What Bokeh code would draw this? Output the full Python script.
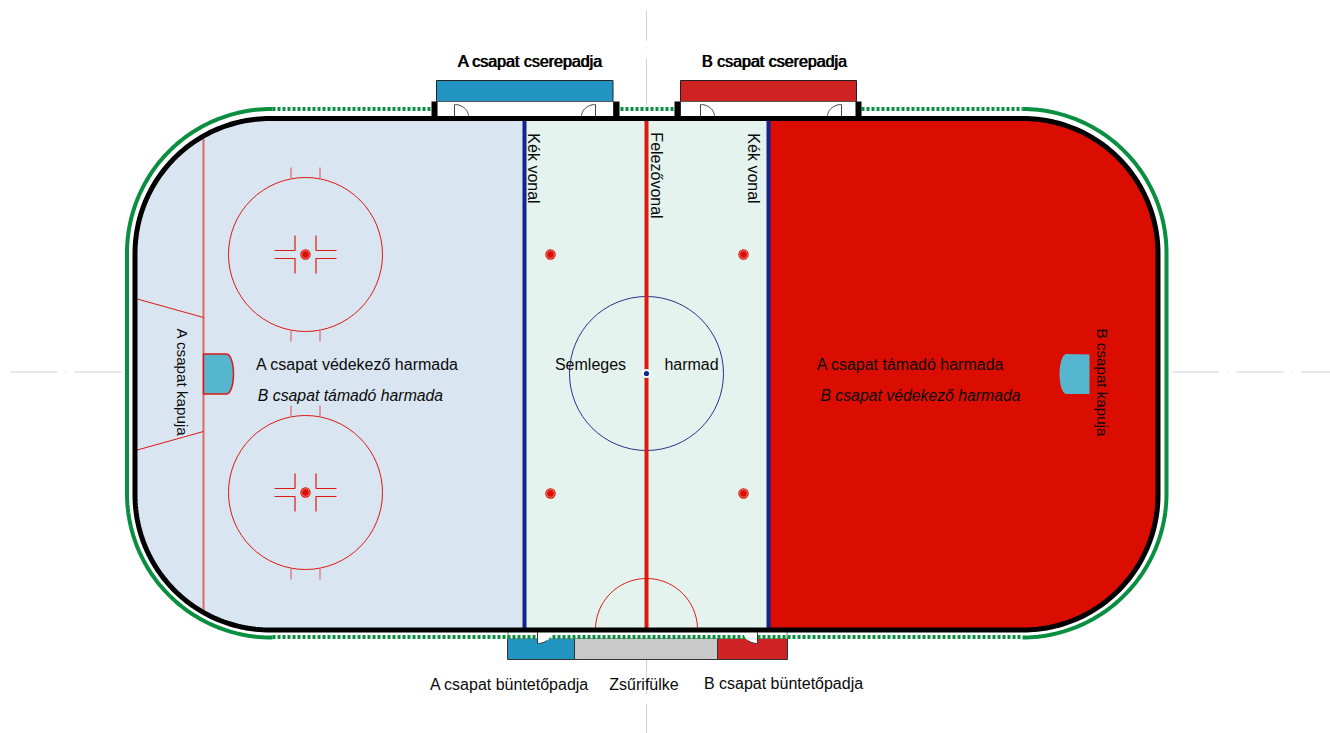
import numpy as np
from bokeh.plotting import figure
from bokeh.core.properties import value
from bokeh.embed import file_html
from bokeh.resources import INLINE

# plan of the rink (x right, y down)
boards = (134.5, 118, 1157.5, 629.5, 135)
green_outline = (126.5, 108.5, 1166, 637, 144)
blue_lines = [524, 768]
centre_x = 646
centre_y = 373
goal_line_x = 203
faceoff_centres_x = [305, 305]
faceoff_centres_y = [254, 492]
faceoff_radius = 77
centre_radius = 77
neutral_dots_x = [550, 743, 550, 743]
neutral_dots_y = [254, 254, 493, 493]
dotted_x = (272, 1022)

labels = ["A csapat védekező harmada", "A csapat támadó harmada", "Semleges", "harmad",
          "A csapat büntetőpadja", "Zsűrifülke", "B csapat büntetőpadja"]
labels_x = [357, 910, 590, 691, 509, 643.5, 783]
labels_y = [364, 364, 364, 364, 684, 684, 683]
italic_labels = ["B csapat támadó harmada", "B csapat védekező harmada"]
italic_x = [350, 920]
italic_y = [395, 395]
bold_labels = ["A csapat cserepadja", "B csapat cserepadja"]
bold_x = [530, 774]
bold_y = [61, 61]
goal_labels = ["A csapat kapuja", "B csapat kapuja"]
goal_labels_x = [182, 1102]
goal_labels_y = [382, 382]
line_labels = ["Kék vonal", "Felezővonal", "Kék vonal"]
line_labels_x = [533, 656, 753]
line_labels_y = [168, 175, 168]

GREY = "#D2D2D2"
ICE_A = "#D9E5F1"
ICE_N = "#E5F3EE"
ICE_B = "#DA0D00"
RED = "#DC1A10"
NAVY = "#13248F"
TEAM_A = "#2294C2"
TEAM_B = "#CF2222"
CREASE = "#56B5CF"
GREEN = "#0A8F40"
INK = "#0A0A0A"
FONT = value("Liberation Sans")


def rounded(x0, y0, x1, y1, r, n=60):
    t = np.linspace(0, np.pi / 2, n)
    xs = np.concatenate([x0 + r - r * np.cos(t), x1 - r + r * np.sin(t),
                         x1 - r + r * np.cos(t), x0 + r - r * np.sin(t)])
    ys = np.concatenate([y0 + r - r * np.sin(t), y0 + r - r * np.cos(t),
                         y1 - r + r * np.sin(t), y1 - r + r * np.cos(t)])
    return xs, ys


p = figure(width=1330, height=733, x_range=(0, 1330), y_range=(733, 0),
           output_backend="svg", toolbar_location=None, min_border=0,
           outline_line_color=None, background_fill_color="white")
p.xaxis.visible = False
p.yaxis.visible = False
p.grid.visible = False

# grey axes of symmetry
p.multi_line([[10, 57], [64.5, 65.5], [74, 121], [1172, 1218], [1226.5, 1227.5], [1236, 1283], [1291.5, 1292.5], [1301, 1330]],
             [[371.5] * 2] * 8, line_color=GREY, line_width=1)
p.multi_line([[646] * 2] * 5, [[10, 40], [47, 48], [58, 104], [659, 694], [703, 733]],
             line_color=GREY, line_width=1)

# ice zones
bx, by = rounded(*boards)
p.patch(np.clip(bx, None, blue_lines[0]), by, fill_color=ICE_A, line_color=None)
p.patch(np.clip(bx, blue_lines[0], blue_lines[1]), by, fill_color=ICE_N, line_color=None)
p.patch(np.clip(bx, blue_lines[1], None), by, fill_color=ICE_B, line_color=None)

# goal line and trapezoid
t_inset = boards[4] - np.sqrt(boards[4] ** 2 - (boards[4] - (goal_line_x - boards[0])) ** 2)
p.line([goal_line_x] * 2, [boards[1] + t_inset, boards[3] - t_inset], line_color="#E0696C", line_width=2)
p.multi_line([[135, goal_line_x], [135, goal_line_x]], [[298, 317], [450, 431]], line_color=RED, line_width=1)

# goal creases
a = np.linspace(-np.pi / 2, np.pi / 2, 30)
bulge_x = 226 + 7 * np.cos(a)
bulge_y = 373.5 + 20 * np.sin(a)
p.patch(np.r_[203, bulge_x, 203], np.r_[353.5, bulge_y, 393.5], fill_color=CREASE, line_color=RED, line_width=1.5)
p.patch(np.r_[1089, 1292 - 226 - 7 * np.cos(a), 1089], np.r_[354, 373.5 + 20 * np.sin(a), 393.5], fill_color=CREASE, line_color=None)

# face-off circles
p.circle(faceoff_centres_x, faceoff_centres_y, radius=faceoff_radius, fill_color=None, line_color=RED, line_width=1)
for cx, cy in zip(faceoff_centres_x, faceoff_centres_y):
    p.multi_line([[cx - 14.5] * 2, [cx + 14.5] * 2, [cx - 14.5] * 2, [cx + 14.5] * 2],
                 [[cy - 87, cy - 76], [cy - 87, cy - 76], [cy + 76, cy + 87], [cy + 76, cy + 87]],
                 line_color="#E0696C", line_width=1.2)
    p.multi_line([[cx - 31, cx - 10.5, cx - 10.5], [cx + 31, cx + 10.5, cx + 10.5],
                  [cx - 31, cx - 10.5, cx - 10.5], [cx + 31, cx + 10.5, cx + 10.5]],
                 [[cy - 4, cy - 4, cy - 19], [cy - 4, cy - 4, cy - 19],
                  [cy + 4, cy + 4, cy + 19], [cy + 4, cy + 4, cy + 19]],
                 line_color=RED, line_width=1.2)
dots_x = faceoff_centres_x + neutral_dots_x
dots_y = faceoff_centres_y + neutral_dots_y
p.circle(dots_x, dots_y, radius=5.2, fill_color=ICE_B, line_color=None)
p.circle(dots_x, dots_y, radius=3.9, fill_color=None, line_color="white", line_alpha=0.55, line_width=0.8)

# centre circle, lines
p.circle([centre_x], [centre_y], radius=centre_radius, fill_color=None, line_color="#24358F", line_width=1)
p.multi_line([[x, x] for x in blue_lines], [[118, 630]] * 2, line_color=NAVY, line_width=4)
p.line([centre_x] * 2, [118, 630], line_color=RED, line_width=4)
p.circle([centre_x], [centre_y], radius=4.5, fill_color="white", line_color=None)
p.circle([centre_x], [centre_y], radius=2.6, fill_color=NAVY, line_color=None)

# referee crease
s = np.linspace(0, np.pi, 60)
p.line(centre_x + 51 * np.cos(s), 629 - 51 * np.sin(s), line_color=RED, line_width=1)

# bench fronts
p.quad(left=[436, 680], right=[612.5, 856], top=[80, 80], bottom=[101, 101],
       fill_color=[TEAM_A, TEAM_B], line_color="#222222", line_width=1)
p.quad(left=[436, 680], right=[613, 856], top=[101, 101], bottom=[116, 116],
       fill_color="white", line_color="#555555", line_width=1)

# solid corners and dotted straight parts of the outer barrier
gx, gy = rounded(*green_outline)
quarter = len(gx) // 4
left_x = np.r_[dotted_x[0], gx[3 * quarter:], gx[:quarter], dotted_x[0]]
left_y = np.r_[green_outline[3], gy[3 * quarter:], gy[:quarter], green_outline[1]]
right_x = np.r_[dotted_x[1], gx[quarter:3 * quarter], dotted_x[1]]
right_y = np.r_[green_outline[1], gy[quarter:3 * quarter], green_outline[3]]
p.multi_line([left_x, right_x], [left_y, right_y], line_color=GREEN, line_width=4)
p.segment([dotted_x[0], 620, 861], [108.5] * 3, [431, 674, dotted_x[1]], [108.5] * 3, line_color=GREEN, line_width=4, line_dash="3 2")
# bench posts
p.quad(left=[431, 613, 674, 855], right=[437, 619, 680, 861], top=[101] * 4, bottom=[118] * 4, fill_color="black", line_color=None)

# penalty boxes
p.quad(left=[507, 574, 717], right=[574, 717, 787], top=[638] * 3, bottom=[659] * 3,
       fill_color=[TEAM_A, "#C9C9C9", TEAM_B], line_color="#333333", line_width=1)
p.quad(left=[507.5], right=[786.5], top=[631], bottom=[638], fill_color="white", line_color=None)
p.multi_line([[507.5, 507.5], [786.5, 786.5]], [[631, 638]] * 2, line_color="#777777", line_width=1)
p.segment([dotted_x[0]], [636.5], [dotted_x[1]], [636.5], line_color=GREEN, line_width=4, line_dash="3 2")

# doors
q = np.linspace(0, np.pi / 2, 20)
door_patches_x = [
    np.r_[454, 454 + 14 * np.sin(q)], np.r_[595, 595 - 14 * np.sin(q)],
    np.r_[700, 700 + 14 * np.sin(q)], np.r_[841, 841 - 14 * np.sin(q)],
]
door_patches_y = [np.r_[116, 116 - 12 * np.cos(q)]] * 4
p.patches(door_patches_x, door_patches_y, fill_color="white", line_color="#444444", line_width=1)
low_x = [537 + 14 * np.sin(q), 757 - 14 * np.sin(q)]
low_y = [632 + 11 * np.cos(q), 632 + 11 * np.cos(q)]
p.patches([np.r_[537, low_x[0]], np.r_[757, low_x[1]]], [np.r_[632, low_y[0]], np.r_[632, low_y[1]]],
          fill_color="white", line_color=None)
p.multi_line([np.r_[537, low_x[0][:10]], np.r_[757, low_x[1][:10]]],
             [np.r_[632, low_y[0][:10]], np.r_[632, low_y[1][:10]]], line_color="#333333", line_width=1)

# rink boards on top
p.line(np.r_[bx, bx[0]], np.r_[by, by[0]], line_color="black", line_width=5)

# text
p.text(labels_x, labels_y, text=labels, text_font=FONT, text_font_size="16px", text_color=INK,
       text_align="center", text_baseline="middle")
p.text(italic_x, italic_y, text=italic_labels, text_font=FONT, text_font_size="15.8px", text_font_style="italic",
       text_color=INK, text_align="center", text_baseline="middle")
for offset in (-0.45, 0.45):
    p.text(np.array(bold_x) + offset, bold_y, text=bold_labels, text_font=FONT, text_font_size="16px",
           text_color="#000000", text_align="center", text_baseline="middle")
p.text(line_labels_x, line_labels_y, text=line_labels, angle=-np.pi / 2, text_font=FONT, text_font_size="16px",
       text_color=INK, text_align="center", text_baseline="middle")
p.text(goal_labels_x, goal_labels_y, text=goal_labels, angle=-np.pi / 2, text_font=FONT, text_font_size="15.2px",
       text_color=INK, text_align="center", text_baseline="middle")

open("out.html", "w").write(file_html(p, INLINE))
